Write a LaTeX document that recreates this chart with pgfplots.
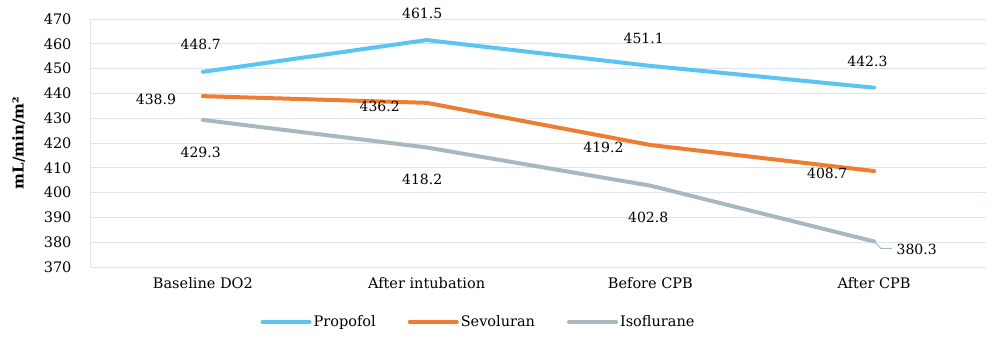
\documentclass[border=0pt]{standalone}
\usepackage{pgfplots}
\pgfplotsset{compat=1.18}
\usepackage{fontspec}
\setmainfont{DejaVu Serif}
\definecolor{cprop}{HTML}{5BC5F2}
\definecolor{csevo}{HTML}{ED7D31}
\definecolor{ciso}{HTML}{A9B7BF}
\definecolor{cgrid}{HTML}{DDE3EA}
\begin{document}
\begin{tikzpicture}[x=1pt,y=1pt]
\begin{axis}[
  name=ax,
  scale only axis,
  width=895pt, height=248pt,
  xmin=-0.5, xmax=3.5,
  ymin=370, ymax=470,
  ytick={370,380,...,470},
  xtick={0,1,2,3},
  xticklabels={Baseline DO2, After intubation, Before CPB, After CPB},
  axis lines=left,
  axis line style={draw=cgrid, line width=1pt, -},
  ymajorgrids, grid style={draw=cgrid, line width=1pt},
  major tick length=0pt,
  tick label style={font=\fontsize{14.5}{16}\selectfont, text=black},
  yticklabel style={xshift=-16pt},
  xticklabel style={yshift=-7pt},
  /pgf/number format/assume math mode=true,
  ylabel={\textbf{mL/min/m²}},
  ylabel style={font=\fontsize{15}{17}\selectfont, at={(axis description cs:-0.081,0.5)}, anchor=center},
  clip=false,
  legend columns=3,
  legend style={draw=none, fill=none, at={(axis description cs:0.433,-0.222)}, anchor=center,
    font=\fontsize{14.5}{16}\selectfont,
    /tikz/every even column/.append style={column sep=30pt}},
  legend image code/.code={\draw[#1] (0pt,0pt) -- (47pt,0pt);},
  every axis plot/.append style={line width=4pt, line cap=round, line join=round},
]
\addplot[cprop] coordinates {(0,448.7) (1,461.5) (2,451.1) (3,442.3)};
\addlegendentry{Propofol}
\addplot[csevo] coordinates {(0,438.9) (1,436.2) (2,419.2) (3,408.7)};
\addlegendentry{Sevoluran}
\addplot[ciso] coordinates {(0,429.3) (1,418.2) (2,402.8) (3,380.3)};
\addlegendentry{Isoflurane}
\draw[ciso, line width=1pt] (axis cs:3.0,380.3) -- (axis cs:3.03,377.5) -- (axis cs:3.08,377.5);
\begin{scope}[every node/.style={font=\fontsize{14}{16}\selectfont, anchor=center, inner sep=0pt}]
\node at (axis cs:-0.01,459.9) {448.7};
\node at (axis cs:0.98,472.4) {461.5};
\node at (axis cs:1.97,462.3) {451.1};
\node at (axis cs:2.97,453.1) {442.3};
\node at (axis cs:-0.21,437.7) {438.9};
\node at (axis cs:0.79,434.9) {436.2};
\node at (axis cs:1.79,418.4) {419.2};
\node at (axis cs:2.79,407.9) {408.7};
\node at (axis cs:-0.01,416.4) {429.3};
\node at (axis cs:0.98,405.5) {418.2};
\node at (axis cs:1.99,390.2) {402.8};
\node at (axis cs:3.19,376.9) {380.3};
\end{scope}
\end{axis}
\pgfresetboundingbox
\path (ax.south west) ++(-91pt,-74pt) rectangle ++(1000pt,341pt);
\end{tikzpicture}
\end{document}
